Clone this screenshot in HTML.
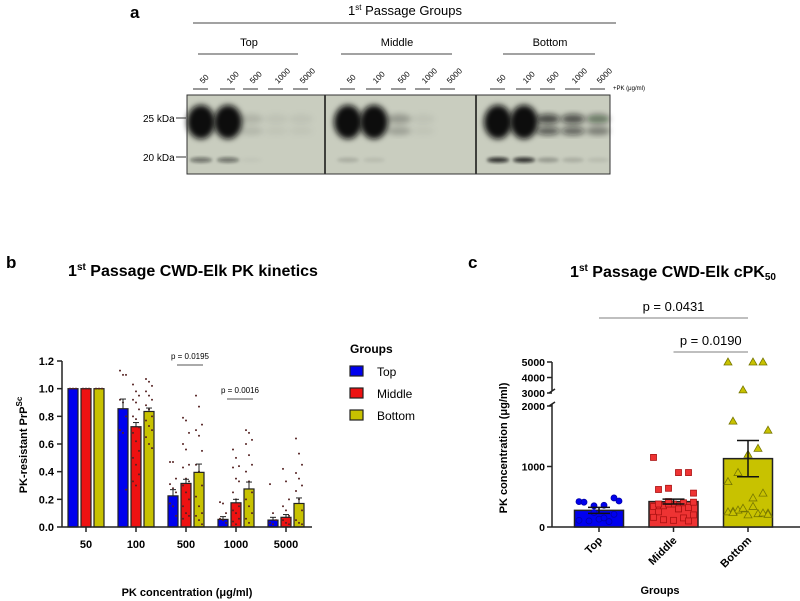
<!DOCTYPE html>
<html><head><meta charset="utf-8"><style>
html,body{margin:0;padding:0;background:#fff;}
svg{display:block;font-family:"Liberation Sans",sans-serif;}
</style></head><body>
<svg id="fig" width="800" height="601" viewBox="0 0 800 601">
<defs>
<filter id="blur" x="-50%" y="-50%" width="200%" height="200%"><feGaussianBlur stdDeviation="3"/></filter>
<filter id="blur2" x="-50%" y="-50%" width="200%" height="200%"><feGaussianBlur stdDeviation="1.5"/></filter>
</defs>
<!-- Panel a -->
<g>
<text x="130" y="18" font-size="17" font-weight="bold">a</text>
<text x="405" y="15" font-size="13" text-anchor="middle">1<tspan font-size="8" dy="-5">st</tspan><tspan dy="5"> Passage Groups</tspan></text>
<line x1="193" y1="23" x2="616" y2="23" stroke="#444" stroke-width="1"/>
<text x="249" y="46" font-size="11" text-anchor="middle">Top</text>
<text x="397" y="46" font-size="11" text-anchor="middle">Middle</text>
<text x="550" y="46" font-size="11" text-anchor="middle">Bottom</text>
<line x1="198" y1="54" x2="298" y2="54" stroke="#444"/>
<line x1="341" y1="54" x2="452" y2="54" stroke="#444"/>
<line x1="503" y1="54" x2="595" y2="54" stroke="#444"/>
<g id="lanes"></g>
<text x="613" y="90" font-size="6">+PK (μg/ml)</text>
<rect x="187" y="95" width="423" height="79" fill="#c9cdbf" stroke="#333" stroke-width="1"/>
<g id="bands"></g>
<line x1="325" y1="95" x2="325" y2="174" stroke="#111" stroke-width="1.5"/>
<line x1="476" y1="95" x2="476" y2="174" stroke="#111" stroke-width="1.5"/>
<rect x="187" y="95" width="423" height="79" fill="none" stroke="#333" stroke-width="1"/>
<text x="143" y="122" font-size="10">25 kDa</text>
<line x1="176" y1="118" x2="186" y2="118" stroke="#333"/>
<text x="143" y="161" font-size="10">20 kDa</text>
<line x1="176" y1="157" x2="186" y2="157" stroke="#333"/>
</g>
<!-- Panel b -->
<g id="pb">
<text x="6" y="268" font-size="17" font-weight="bold">b</text>
<text x="193" y="276" font-size="16" font-weight="bold" text-anchor="middle">1<tspan font-size="10" dy="-6">st</tspan><tspan dy="6"> Passage CWD-Elk PK kinetics</tspan></text>
<text transform="translate(27,445) rotate(-90)" font-size="11" font-weight="bold" text-anchor="middle">PK-resistant PrP<tspan font-size="8" dy="-5">Sc</tspan></text>
<text x="187" y="596" font-size="11" font-weight="bold" text-anchor="middle">PK concentration (μg/ml)</text>
<text x="350" y="353" font-size="12" font-weight="bold">Groups</text>
</g>
<!-- Panel c -->
<g id="pc">
<text x="468" y="268" font-size="17" font-weight="bold">c</text>
<text x="673" y="277" font-size="16" font-weight="bold" text-anchor="middle">1<tspan font-size="10" dy="-6">st</tspan><tspan dy="6"> Passage CWD-Elk cPK</tspan><tspan font-size="10" dy="3">50</tspan></text>
<text transform="translate(507,448) rotate(-90)" font-size="11" font-weight="bold" text-anchor="middle">PK concentration (μg/ml)</text>
<text x="660" y="594" font-size="11" font-weight="bold" text-anchor="middle">Groups</text>
</g>
</svg>
<script>
const NS='http://www.w3.org/2000/svg';
function mk(p,tag,attrs,txt){const e=document.createElementNS(NS,tag);for(const k in attrs)e.setAttribute(k,attrs[k]);if(txt!==undefined)e.textContent=txt;p.appendChild(e);return e;}

// ===== Panel a data =====
const laneLabels=['50','100','500','1000','5000'];
const laneX=[[200,227,250,275,300],[347,373,398,422,447],[497,523,547,572,597]];
const bandUpper=[[1,1,0.12,0.05,0.05],[1,1,0.25,0.05,0],[1,1,0.7,0.65,0.45]];
const bandLower=[[0.5,0.5,0.03,0,0],[0.15,0.08,0,0,0],[0.85,0.85,0.25,0.15,0.08]];
const lanesG=document.getElementById('lanes');
const bandsG=document.getElementById('bands');
laneX.forEach((g,gi)=>g.forEach((x,li)=>{
  const t=mk(lanesG,'text',{transform:`translate(${x+3},84) rotate(-45)`,'font-size':'8'},laneLabels[li]);
  
  
  mk(lanesG,'line',{x1:x-7,y1:89,x2:x+8,y2:89,stroke:'#333'});
  const u=bandUpper[gi][li];
  if(u>0){
    const big=u>0.9;
    const b=mk(bandsG,'ellipse',{cx:x+1,cy:big?122:119,rx:big?14:12,ry:big?17:5,fill:'#0d0f0d','fill-opacity':u,filter:'url(#blur)'});
    
    
    if(!big){
      const b2=mk(bandsG,'ellipse',{cx:x+1,cy:131,rx:12,ry:4,fill:'#0d0f0d','fill-opacity':u*0.9,filter:'url(#blur)'});
      
      
    }
  }
  const l=bandLower[gi][li];
  if(l>0){
    const b=mk(bandsG,'ellipse',{cx:x+1,cy:160,rx:11,ry:2.5,fill:'#0d0f0d','fill-opacity':l,filter:'url(#blur2)'});
    
    
  }
}));

// ===== Panel b data =====
const bCategories=['50','100','500','1000','5000'];
const bGroups=['Top','Middle','Bottom'];
const bTop=[1,0.855,0.225,0.055,0.05];
const bMid=[1,0.725,0.315,0.175,0.07];
const bBot=[1,0.835,0.395,0.275,0.17];
const bErrTop=[0,0.07,0.045,0.02,0.02];
const bErrMid=[0,0.03,0.03,0.025,0.02];
const bErrBot=[0,0.025,0.06,0.05,0.04];
const bTicks=[0,0.2,0.4,0.6,0.8,1.0,1.2];
const bDotsTop=[[1,1,1],[1.13,1.1,1.1,0.92,0.9,0.8,0.7,0.68,0.27],[0.47,0.47,0.35,0.31,0.28,0.25,0.17,0.15,0.08],[0.18,0.17,0.1,0.06,0.05,0.03],[0.31,0.1,0.05,0.03,0.02]];
const bDotsMid=[[1,1,1],[1.03,0.98,0.95,0.92,0.9,0.85,0.8,0.78,0.72,0.68,0.62,0.55,0.5,0.45,0.38,0.33,0.3],[0.79,0.77,0.68,0.6,0.56,0.45,0.43,0.35,0.33,0.3,0.25,0.2,0.15,0.1,0.08,0.06],[0.56,0.5,0.44,0.43,0.35,0.33,0.25,0.2,0.15,0.12,0.1,0.06,0.04,0.02],[0.42,0.33,0.2,0.15,0.12,0.08,0.05,0.03,0.02]];
const bDotsBot=[[1,1,1],[1.07,1.05,1.02,0.98,0.95,0.92,0.88,0.85,0.8,0.77,0.73,0.7,0.65,0.6,0.57],[0.95,0.87,0.74,0.7,0.66,0.55,0.45,0.4,0.3,0.22,0.15,0.1,0.08,0.05,0.02],[0.7,0.68,0.63,0.6,0.52,0.45,0.4,0.33,0.25,0.2,0.15,0.1,0.06,0.03],[0.64,0.53,0.45,0.39,0.35,0.3,0.26,0.2,0.12,0.05,0.03,0.02]];
const bColors=['#0000ee','#ee1111','#c8c200'];
const bX0=62,bX1=312,bY0=527,bYtop=361;
const yB=v=>bY0-(v/1.2)*(bY0-bYtop);
const xB=i=>86+i*50;
const pb=document.getElementById('pb');
bTicks.forEach(t=>{
  mk(pb,'line',{x1:bX0-5,y1:yB(t),x2:bX0,y2:yB(t),stroke:'#222','stroke-width':1.5});
  const tx=mk(pb,'text',{x:bX0-8,y:yB(t)+4,'font-size':'11','font-weight':'bold','text-anchor':'end'},t.toFixed(1));
  
  
});
const bSeries=[bTop,bMid,bBot],bErrs=[bErrTop,bErrMid,bErrBot],bDots=[bDotsTop,bDotsMid,bDotsBot];
bCategories.forEach((c,i)=>{
  bSeries.forEach((s,g)=>{
    const cx=xB(i)+(g-1)*13;
    const r=mk(pb,'rect',{x:cx-5,y:yB(s[i]),width:10,height:bY0-yB(s[i]),fill:bColors[g],stroke:'#222','stroke-width':1.2});
    
    
    bDots[g][i].forEach((d,k)=>{
      const dot=mk(pb,'circle',{cx:cx+((k%3)-1)*3,cy:yB(d),r:1,fill:'#552222'});
      
      
    });
    const e=bErrs[g][i];
    if(e>0){
      mk(pb,'line',{x1:cx,y1:yB(s[i]),x2:cx,y2:yB(s[i]+e),stroke:'#222'});
      mk(pb,'line',{x1:cx-3,y1:yB(s[i]+e),x2:cx+3,y2:yB(s[i]+e),stroke:'#222'});
    }
  });
  mk(pb,'line',{x1:xB(i),y1:bY0,x2:xB(i),y2:bY0+5,stroke:'#222','stroke-width':1.5});
  const tl=mk(pb,'text',{x:xB(i),y:bY0+21,'font-size':'11','font-weight':'bold','text-anchor':'middle'},c);
  
  
});
mk(pb,'line',{x1:bX0,y1:bYtop,x2:bX0,y2:bY0,stroke:'#222','stroke-width':1.5});
mk(pb,'line',{x1:bX0,y1:bY0,x2:bX1,y2:bY0,stroke:'#222','stroke-width':1.5});
[[2,'p = 0.0195',365],[3,'p = 0.0016',399]].forEach(([i,t,y])=>{
  mk(pb,'line',{x1:xB(i)-9,y1:y,x2:xB(i)+17,y2:y,stroke:'#555'});
  const p=mk(pb,'text',{x:xB(i)+4,y:y-6,'font-size':'8','text-anchor':'middle'},t);
  
  
});
bGroups.forEach((g,k)=>{
  const y=372+k*22;
  const sw=mk(pb,'rect',{x:350,y:y-6,width:13,height:10,fill:bColors[k],stroke:'#222','stroke-width':1.2});
  
  
  const lt=mk(pb,'text',{x:377,y:y+4,'font-size':'12'},g);
  
  
});

// ===== Panel c data =====
const cCategories=['Top','Middle','Bottom'];
const cMeans=[275,420,1130];
const cErrs=[50,40,300];
const cTicksLow=[0,1000,2000];
const cTicksHigh=[3000,4000,5000];
const cPtsTop=[420,480,360,350,410,430,90,130,100,110,210,150,240];
const cPtsMid=[1150,900,900,640,620,560,400,380,350,340,320,300,380,250,200,150,110,120,160,100,300,420,380,410];
const cPtsBot=[5000,5000,5000,3200,1750,1600,1300,1200,900,750,560,480,300,260,230,220,200,280,250,230,340,310,240,210];
const cColors=['#0000ee','#ee3333','#c8c200'];
const cX0=552,cX1=800,cY0=527;
const yC=v=>v<=2000?cY0-v*0.0605:393-(v-3000)*0.0155;
const xC=i=>599+i*74.5;
const pc=document.getElementById('pc');
cTicksLow.concat(cTicksHigh).forEach(t=>{
  mk(pc,'line',{x1:cX0-5,y1:yC(t),x2:cX0,y2:yC(t),stroke:'#222','stroke-width':1.5});
  const tx=mk(pc,'text',{x:cX0-7,y:yC(t)+4,'font-size':'10.5','font-weight':'bold','text-anchor':'end'},String(t));
  
  
});
mk(pc,'line',{x1:cX0,y1:362,x2:cX0,y2:391,stroke:'#222','stroke-width':1.5});
mk(pc,'line',{x1:cX0,y1:404,x2:cX0,y2:cY0,stroke:'#222','stroke-width':1.5});
mk(pc,'line',{x1:cX0-3,y1:393,x2:cX0+3,y2:389,stroke:'#222','stroke-width':1.5});
mk(pc,'line',{x1:cX0-3,y1:406,x2:cX0+3,y2:402,stroke:'#222','stroke-width':1.5});
mk(pc,'line',{x1:cX0,y1:cY0,x2:cX1,y2:cY0,stroke:'#222','stroke-width':1.5});
const cPts=[cPtsTop,cPtsMid,cPtsBot];
cCategories.forEach((c,i)=>{
  const cx=xC(i);
  const r=mk(pc,'rect',{x:cx-24.5,y:yC(cMeans[i]),width:49,height:cY0-yC(cMeans[i]),fill:cColors[i],stroke:'#222','stroke-width':1.5});
  
  
  cPts[i].forEach((v,k)=>{
    const px=cx+((k*7)%9-4)*5,py=yC(v);
    let m;
    if(i===0) m=mk(pc,'circle',{cx:px,cy:py,r:3,fill:cColors[i],stroke:'#0000aa','stroke-width':0.8});
    else if(i===1) m=mk(pc,'rect',{x:px-3,y:py-3,width:6,height:6,fill:cColors[i],stroke:'#aa1111','stroke-width':0.8});
    else m=mk(pc,'polygon',{points:`${px},${py-4} ${px-4},${py+3} ${px+4},${py+3}`,fill:cColors[i],stroke:'#777700','stroke-width':0.8});
    
    
  });
  const hi=yC(cMeans[i]+cErrs[i]),lo=yC(cMeans[i]-cErrs[i]);
  mk(pc,'line',{x1:cx,y1:hi,x2:cx,y2:lo,stroke:'#111','stroke-width':1.5});
  mk(pc,'line',{x1:cx-11,y1:hi,x2:cx+11,y2:hi,stroke:'#111','stroke-width':1.5});
  mk(pc,'line',{x1:cx-11,y1:lo,x2:cx+11,y2:lo,stroke:'#111','stroke-width':1.5});
  mk(pc,'line',{x1:cx,y1:cY0,x2:cx,y2:cY0+5,stroke:'#222','stroke-width':1.5});
  const tl=mk(pc,'text',{transform:`translate(${cx+4},${cY0+14}) rotate(-45)`,'font-size':'11','font-weight':'bold','text-anchor':'end'},c);
  
  
});
[[0,2,'p = 0.0431',318],[1,2,'p = 0.0190',352]].forEach(([a,b,t,y])=>{
  mk(pc,'line',{x1:xC(a),y1:y,x2:xC(b),y2:y,stroke:'#999','stroke-width':1.2});
  const p=mk(pc,'text',{x:(xC(a)+xC(b))/2,y:y-7,'font-size':'13','text-anchor':'middle'},t);
  
  
});
</script>
</body></html>
